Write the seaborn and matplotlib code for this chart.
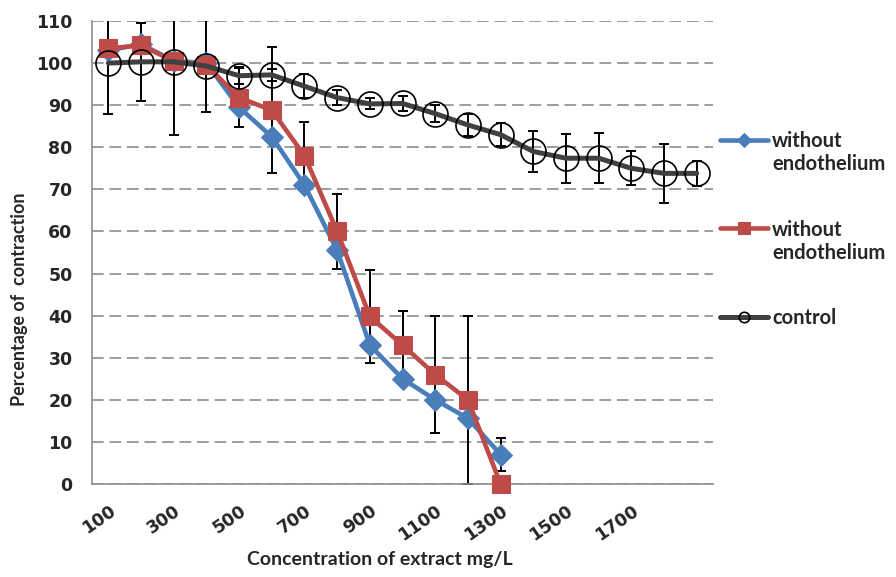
import seaborn as sns
import matplotlib.pyplot as plt
import pandas as pd

# concentrations (mg/L) and readings taken from the chart
conc_all = [100, 200, 300, 400, 500, 600, 700, 800, 900, 1000,
            1100, 1200, 1300, 1400, 1500, 1600, 1700, 1800, 1900]
conc_short = [100, 200, 300, 400, 500, 600, 700, 800, 900, 1000, 1100, 1200, 1300]

blue_vals = [103, 104.5, 100.5, 100, 89.5, 82.5, 71, 55.5, 33, 25, 20, 15.6, 7]
blue_err = [0, 0, 0, 0, 0, 0, 0, 0, 0, 0, 0, 0, 4]

red_vals = [103.5, 104.2, 100.5, 99.5, 91.8, 88.8, 78, 60, 39.8, 33, 26, 20, 0]
red_err = [0, 0, 0, 0, 7, 15, 8, 9, 11, 8, 14, 20, 0]

control_vals = [100, 100.3, 100.3, 99.3, 97, 97.2, 94.5, 91.8, 90.3, 90.4,
                88, 85.3, 83, 79, 77.4, 77.4, 75, 73.8, 73.8]
control_err = [12, 9.3, 17.3, 11, 2, 1.5, 2.8, 1.8, 1.3, 1.8,
               2, 2.6, 2.8, 4.8, 5.8, 6, 4, 7, 3]

tick_labels = ["100", "300", "500", "700", "900", "1100", "1300", "1500", "1700"]
legend_labels = ["without\nendothelium", "without\nendothelium", "control"]

blue = "#4A7EBB"
red = "#BE4B48"
dark = "#404040"
grey = "#8C8C8C"

sns.set_theme(style="white")
plt.rcParams["font.family"] = ["DejaVu Sans"]

fig, ax = plt.subplots(figsize=(8.96, 5.77), dpi=100)
fig.subplots_adjust(left=0.1027, right=0.7958, bottom=0.1612, top=0.9636)

df_blue = pd.DataFrame({"conc": conc_short, "val": blue_vals})
df_red = pd.DataFrame({"conc": conc_short, "val": red_vals})
df_ctrl = pd.DataFrame({"conc": conc_all, "val": control_vals})

# error bars first so markers sit on top
for xs, ys, es in [(conc_short, blue_vals, blue_err),
                   (conc_short, red_vals, red_err),
                   (conc_all, control_vals, control_err)]:
    ax.errorbar(xs, ys, yerr=es, fmt="none", ecolor="black",
                elinewidth=1.4, capsize=3.5, capthick=1.4, zorder=2)

sns.lineplot(data=df_blue, x="conc", y="val", ax=ax, color=blue, marker="D",
             markersize=11.5, markeredgecolor=blue, linewidth=3.3, label=legend_labels[0],
             clip_on=False, zorder=3)
sns.lineplot(data=df_red, x="conc", y="val", ax=ax, color=red, marker="s",
             markersize=12.5, markeredgecolor=red, linewidth=3.3, label=legend_labels[1],
             clip_on=False, zorder=4)
sns.lineplot(data=df_ctrl, x="conc", y="val", ax=ax, color=dark, marker="o",
             markersize=18, markerfacecolor="none", markeredgecolor="black",
             markeredgewidth=1.2, linewidth=3.6, label=legend_labels[2],
             clip_on=False, zorder=5)

# axes limits / ticks (category-style axis)
step = conc_all[1] - conc_all[0]
ax.set_xlim(conc_all[0] - step / 2, conc_all[-1] + step / 2)
ax.set_ylim(0, 110)
ax.set_yticks(range(0, 111, 10))
ax.set_xticks([int(t) for t in tick_labels])
ax.set_xticklabels(tick_labels, rotation=35, ha="right", va="top",
                   rotation_mode="anchor", fontsize=12.5, fontweight="bold")
ax.set_xticks([c - step / 2 for c in conc_all] + [conc_all[-1] + step / 2], minor=True)
ax.tick_params(axis="x", which="major", length=0, pad=13)
ax.tick_params(axis="x", which="minor", length=5, width=1, color=grey, direction="out")
ax.tick_params(axis="y", length=5, width=1, color=grey, direction="out", pad=9,
               labelsize=12.5)
for t in ax.get_yticklabels():
    t.set_fontweight("bold")

ax.yaxis.grid(True, color=grey, linestyle=(0, (7, 3.5)), linewidth=1.2)
ax.set_axisbelow(True)
for side in ["top", "right"]:
    ax.spines[side].set_visible(False)
for side in ["left", "bottom"]:
    ax.spines[side].set_color(grey)
    ax.spines[side].set_linewidth(1.2)
ax.set_xlabel("Concentration of extract mg/L", fontsize=14, fontweight="bold",
              family=["Lato", "DejaVu Sans"])
ax.set_ylabel("Percentage of  contraction", fontsize=13, fontweight="bold",
              family=["Lato", "DejaVu Sans"])
ax.xaxis.set_label_coords(0.464, -0.144)
ax.yaxis.set_label_coords(-0.103, 0.40)

leg = ax.legend(loc="upper left", bbox_to_anchor=(0.783, 0.804), bbox_transform=fig.transFigure,
                frameon=False, handlelength=2.4, handletextpad=0.2, labelspacing=2.25,
                handleheight=1.2,
                prop={"family": ["Lato", "DejaVu Sans"], "weight": "bold", "size": 14.5})
# legend markers are smaller than the plotted ones
for h, ms in zip(leg.legend_handles, [7, 8, 7.5]):
    h.set_markersize(ms)
# put each legend handle level with the first text line
for col in leg._legend_handle_box.get_children():
    for row in col.get_children():
        row.align = "top"

fig.savefig("out.png", dpi=100)
